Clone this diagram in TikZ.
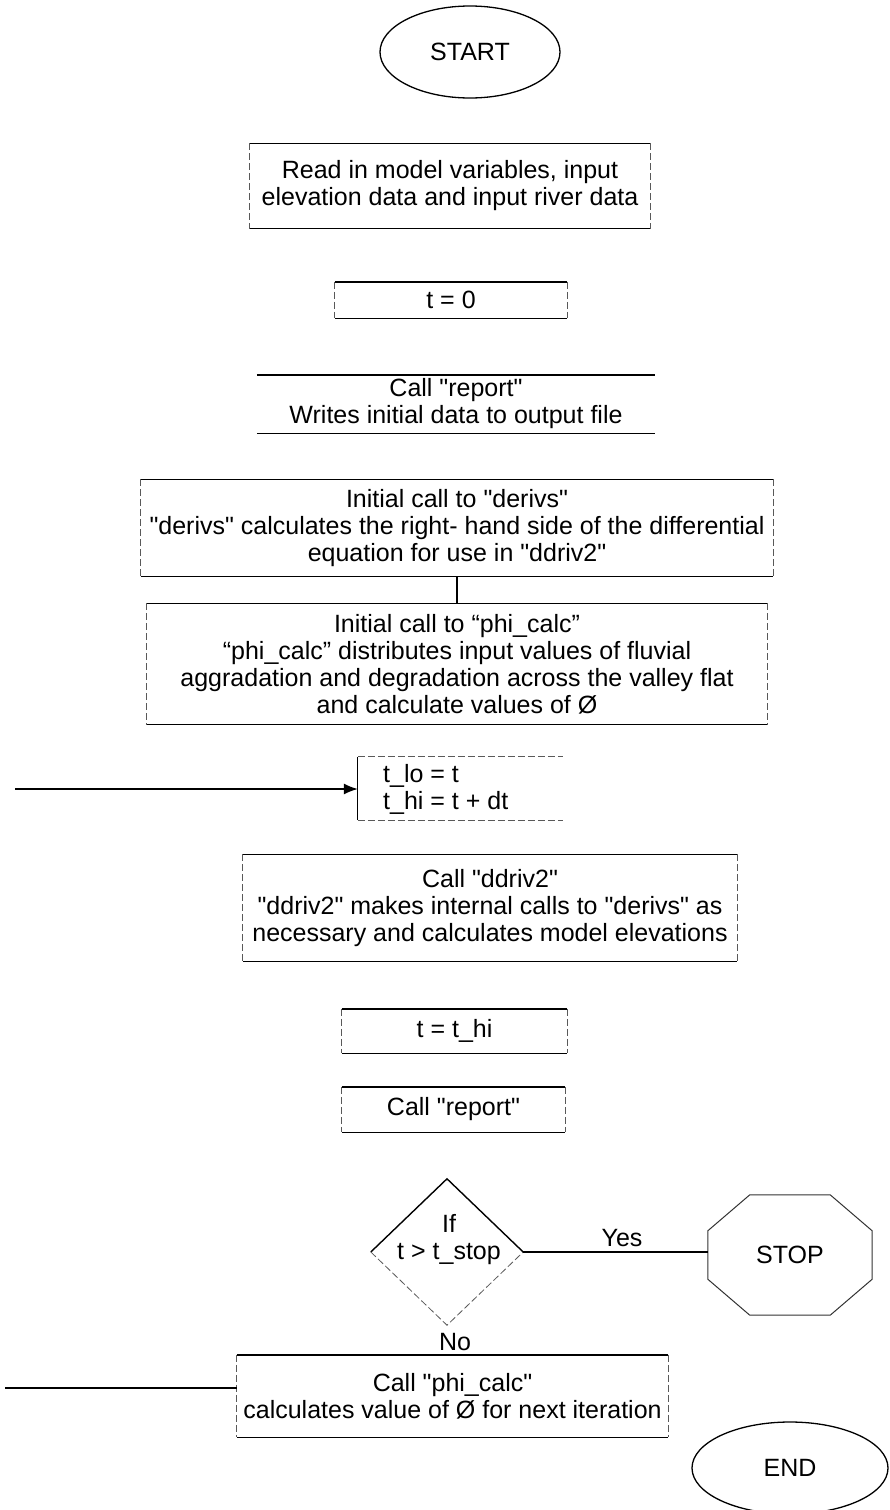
\documentclass[tikz,border=0pt]{standalone}
\usepackage{fontspec}
\setmainfont{Liberation Sans}[Ligatures=TeXOff]
\usetikzlibrary{shapes.geometric,arrows.meta}
\tikzset{
  txt/.style={font=\fontsize{25pt}{27pt}\selectfont, align=center, inner sep=0pt},
  box/.style={txt, rectangle, draw=none},
  hline/.style={line width=1.4pt, black},
  vline/.style={line width=0.8pt, black!65, dash pattern=on 7pt off 3pt},
  term/.style={txt, ellipse, draw, line width=1.3pt},
  octline/.style={line width=1pt, black!80},
  conn/.style={line width=1.3pt},
  arrowconn/.style={conn, -{Latex[length=14pt,width=11pt]}},
}
\newcommand\myflowframe[2][vline]{%
  \draw[hline] (#2.north west) -- (#2.north east);
  \draw[hline] (#2.south west) -- (#2.south east);
  \draw[#1] (#2.north west) -- (#2.south west);
  \draw[#1] (#2.north east) -- (#2.south east);}
\begin{document}
\begin{tikzpicture}[x=1pt,y=-1pt]
\useasboundingbox[fill=white] (0,0) rectangle (889,1510);

\node[term, minimum width=180pt, minimum height=92pt] (start) at (470,52) {START};

\node[box, minimum width=400pt, minimum height=85pt] (read) at (450,186)
  {Read in model variables, input\\elevation data and input river data};
\node[box, minimum width=232pt, minimum height=36pt] (t0) at (451,300) {t = 0};
\node[box, minimum width=398pt, minimum height=58pt] (rep1) at (456,404)
  {Call "report"\\Writes initial data to output file};
\node[box, minimum width=632pt, minimum height=97pt] (derivs) at (457,528)
  {Initial call to "derivs"\\"derivs" calculates the right- hand side of the differential\\equation for use in "ddriv2"};
\node[box, minimum width=620pt, minimum height=121pt] (phi) at (457,664)
  {Initial call to “phi\_calc”\\“phi\_calc” distributes input values of fluvial\\aggradation and degradation across the valley flat\\and calculate values of Ø};

\node[box, minimum width=205pt, minimum height=63pt] (tlo) at (460.5,788.5) {};
\node[txt, anchor=west, align=left] (tlotext) at (383,789) {t\_lo = t\\t\_hi = t + dt};

\node[box, minimum width=494pt, minimum height=107pt] (ddriv) at (490,908)
  {Call "ddriv2"\\"ddriv2" makes internal calls to "derivs" as\\necessary and calculates model elevations};
\node[box, minimum width=225pt, minimum height=44pt] (thi) at (454.5,1031) {t = t\_hi};
\node[box, minimum width=223pt, minimum height=45pt] (rep2) at (453.5,1109.5) {Call "report"};

\node[box, minimum width=152pt, minimum height=146pt] (dec) at (447,1252) {};
\node[txt] (dectext) at (449,1240) {If\\t > t\_stop};
\node[box, minimum width=164pt, minimum height=120pt] (stop) at (790,1255) {STOP};
\node[txt] (yes) at (622,1238) {Yes};
\node[txt] (no) at (455,1342) {No};

\node[box, minimum width=431pt, minimum height=82pt] (phi2) at (452.5,1396)
  {Call "phi\_calc"\\calculates value of Ø for next iteration};
\node[term, minimum width=196pt, minimum height=92pt] (end) at (790,1468) {END};

\coordinate (loopin) at (15,789);
\coordinate (loopout) at (5,1388);

\myflowframe{read}
\myflowframe{t0}
\myflowframe[draw=none]{rep1}
\myflowframe{derivs}
\myflowframe{phi}
\myflowframe{ddriv}
\myflowframe{thi}
\myflowframe{rep2}
\myflowframe{phi2}

% t_lo box: dashed top and bottom, solid left side, no right side
\draw[vline] (tlo.north west) -- (tlo.north east);
\draw[vline] (tlo.south west) -- (tlo.south east);
\draw[line width=0.9pt] (tlo.north west) -- (tlo.south west);

\draw[hline] (dec.west) -- (dec.north) -- (dec.east);
\draw[vline] (dec.west) -- (dec.south) -- (dec.east);

\draw[octline] ([xshift=42pt]stop.north west) -- ([xshift=-42pt]stop.north east)
  -- ([yshift=-36pt]stop.north east) -- ([yshift=36pt]stop.south east)
  -- ([xshift=-42pt]stop.south east) -- ([xshift=42pt]stop.south west)
  -- ([yshift=36pt]stop.south west) -- ([yshift=-36pt]stop.north west) -- cycle;

\draw[conn] (derivs.south) -- (derivs.south |- phi.north);
\draw[arrowconn] (loopin) -- (loopin -| tlo.west);
\draw[conn] (dec.east) -- (dec.east -| stop.west);
\draw[conn] (loopout) -- (loopout -| phi2.west);
\end{tikzpicture}
\end{document}
